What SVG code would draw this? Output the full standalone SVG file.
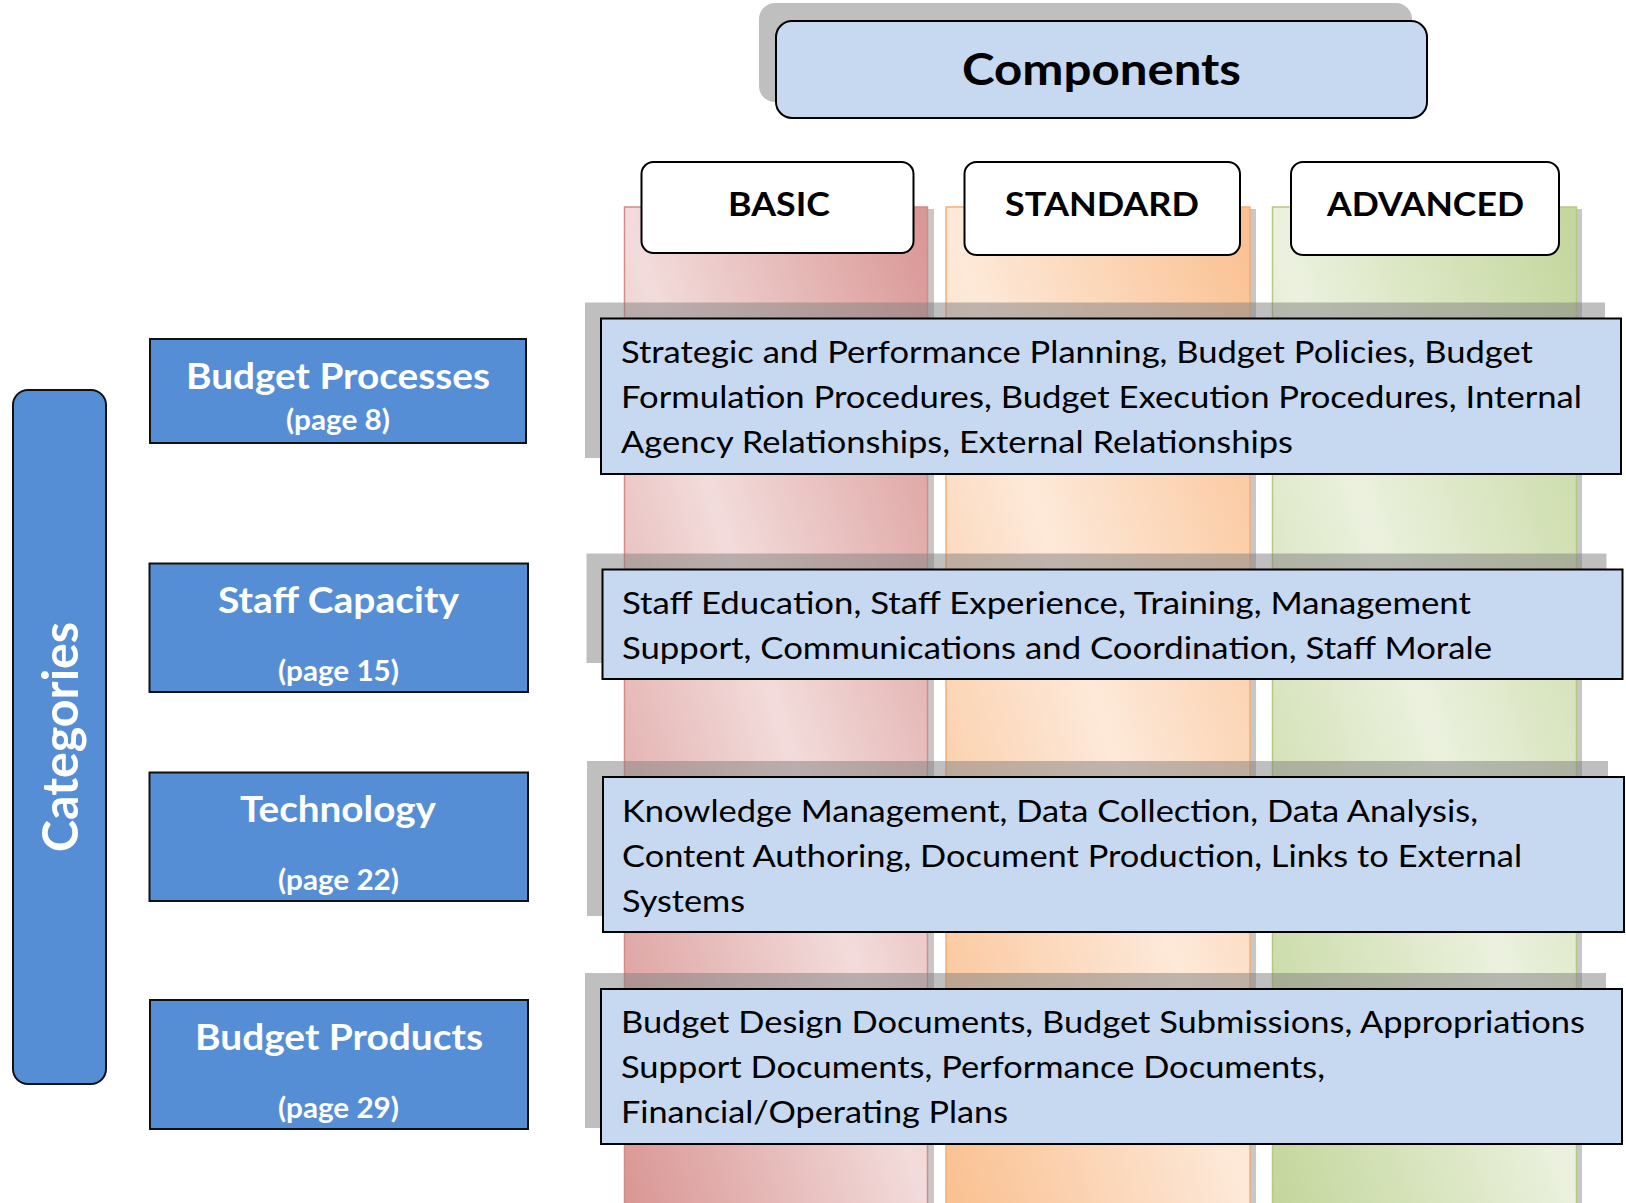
<svg xmlns="http://www.w3.org/2000/svg" width="1626" height="1203" viewBox="0 0 1626 1203">
  <defs>
    <!-- diagonal two-tone shading for the three level columns -->
    <linearGradient id="gRed" x1="1" y1="0" x2="0" y2="1">
      <stop offset="0" stop-color="#d99694"/>
      <stop offset="0.5" stop-color="#f2dcdb"/>
      <stop offset="1" stop-color="#d99694"/>
    </linearGradient>
    <linearGradient id="gOrange" x1="1" y1="0" x2="0" y2="1">
      <stop offset="0" stop-color="#fac090"/>
      <stop offset="0.5" stop-color="#fde9d9"/>
      <stop offset="1" stop-color="#fac090"/>
    </linearGradient>
    <linearGradient id="gGreen" x1="1" y1="0" x2="0" y2="1">
      <stop offset="0" stop-color="#c3d69b"/>
      <stop offset="0.5" stop-color="#ebf1de"/>
      <stop offset="1" stop-color="#c3d69b"/>
    </linearGradient>
  </defs>
  <style>
    .col-shadow { fill: #000; opacity: 0.22; }
    .hdr { fill: #ffffff; stroke: #000; stroke-width: 2; }
    .hdr-t { font-family: Lato, "Open Sans", sans-serif; font-weight: 700; font-size: 33px; fill: #000; }
    .comp { fill: #c6d9f1; stroke: #000; stroke-width: 2; }
    .comp-shadow { fill: #bfbfbf; }
    .item-shadow { fill: #7f7f7f; opacity: 0.5; }
    .item { fill: #c6d9f1; stroke: #000; stroke-width: 2; }
    .item-t { font-family: Lato, "Open Sans", sans-serif; font-size: 30px; fill: #000; }
    .cat { fill: #558ed5; stroke: #111; stroke-width: 2; }
    .cat-t { font-family: Lato, "Open Sans", sans-serif; font-weight: 700; font-size: 36px; fill: #fff; }
    .cat-p { font-family: Lato, "Open Sans", sans-serif; font-weight: 700; font-size: 28px; fill: #fff; }
  </style>

  <rect width="1626" height="1203" fill="#ffffff"/>

  <!-- level columns -->
  <g id="columns">
    <rect class="col-shadow" x="628" y="209" width="306" height="1000"/>
    <rect x="624.5" y="207" width="303" height="1000" fill="url(#gRed)" stroke="#d48b89" stroke-width="1.5"/>
    <rect class="col-shadow" x="950" y="209" width="306" height="1000"/>
    <rect x="946" y="207" width="304" height="1000" fill="url(#gOrange)" stroke="#f5ae74" stroke-width="1.5"/>
    <rect class="col-shadow" x="1276" y="209" width="306" height="1000"/>
    <rect x="1272.5" y="207" width="304" height="1000" fill="url(#gGreen)" stroke="#b3ca84" stroke-width="1.5"/>
  </g>

  <!-- title -->
  <g id="components">
    <rect class="comp-shadow" x="759" y="3" width="653" height="99" rx="16"/>
    <rect class="comp" x="776" y="21" width="651" height="97" rx="16"/>
    <text x="962" y="85" font-family="Lato, 'Open Sans', sans-serif" font-weight="700" font-size="44" fill="#000" textLength="279" lengthAdjust="spacingAndGlyphs">Components</text>
  </g>

  <!-- level headers -->
  <g id="basic">
    <rect class="hdr" x="641.5" y="162" width="272" height="91" rx="12"/>
    <text class="hdr-t" x="728" y="216" textLength="102" lengthAdjust="spacingAndGlyphs">BASIC</text>
  </g>
  <g id="standard">
    <rect class="hdr" x="964.5" y="162" width="275.5" height="93" rx="12"/>
    <text class="hdr-t" x="1005" y="216" textLength="194" lengthAdjust="spacingAndGlyphs">STANDARD</text>
  </g>
  <g id="advanced">
    <rect class="hdr" x="1291" y="162" width="268" height="93" rx="12"/>
    <text class="hdr-t" x="1327" y="216" textLength="197" lengthAdjust="spacingAndGlyphs">ADVANCED</text>
  </g>

  <!-- component lists -->
  <g id="items-processes">
    <rect class="item-shadow" x="585" y="302.5" width="1020" height="155.5"/>
    <rect class="item" x="601" y="318.5" width="1020" height="155.5"/>
    <text class="item-t" x="621" y="363" textLength="912" lengthAdjust="spacingAndGlyphs">Strategic and Performance Planning, Budget Policies, Budget</text>
    <text class="item-t" x="621" y="408" textLength="961" lengthAdjust="spacingAndGlyphs">Formulation Procedures, Budget Execution Procedures, Internal</text>
    <text class="item-t" x="621" y="453" textLength="672" lengthAdjust="spacingAndGlyphs">Agency Relationships, External Relationships</text>
  </g>
  <g id="items-staff">
    <rect class="item-shadow" x="586.5" y="553.5" width="1020" height="109.5"/>
    <rect class="item" x="602.5" y="569.5" width="1020" height="109.5"/>
    <text class="item-t" x="622" y="614" textLength="849" lengthAdjust="spacingAndGlyphs">Staff Education, Staff Experience, Training, Management</text>
    <text class="item-t" x="622" y="659" textLength="870" lengthAdjust="spacingAndGlyphs">Support, Communications and Coordination, Staff Morale</text>
  </g>
  <g id="items-technology">
    <rect class="item-shadow" x="587" y="761" width="1021" height="155"/>
    <rect class="item" x="603" y="777" width="1021" height="155"/>
    <text class="item-t" x="622" y="822" textLength="856" lengthAdjust="spacingAndGlyphs">Knowledge Management, Data Collection, Data Analysis,</text>
    <text class="item-t" x="622" y="867" textLength="900" lengthAdjust="spacingAndGlyphs">Content Authoring, Document Production, Links to External</text>
    <text class="item-t" x="622" y="912" textLength="123" lengthAdjust="spacingAndGlyphs">Systems</text>
  </g>
  <g id="items-products">
    <rect class="item-shadow" x="585" y="973" width="1021" height="155"/>
    <rect class="item" x="601" y="989" width="1021" height="155"/>
    <text class="item-t" x="621" y="1033" textLength="964" lengthAdjust="spacingAndGlyphs">Budget Design Documents, Budget Submissions, Appropriations</text>
    <text class="item-t" x="621" y="1078" textLength="704" lengthAdjust="spacingAndGlyphs">Support Documents, Performance Documents,</text>
    <text class="item-t" x="621" y="1123" textLength="387" lengthAdjust="spacingAndGlyphs">Financial/Operating Plans</text>
  </g>

  <!-- category side bar -->
  <g id="categories">
    <rect class="cat" x="13" y="390" width="93" height="694" rx="15"/>
    <text transform="translate(78 852) rotate(-90)" x="0" y="0" font-family="Lato, 'Open Sans', sans-serif" font-weight="700" font-size="49" fill="#fff" textLength="230" lengthAdjust="spacingAndGlyphs">Categories</text>
  </g>

  <!-- category boxes -->
  <g id="cat-processes">
    <rect class="cat" x="150" y="339" width="376" height="104"/>
    <text class="cat-t" x="186" y="389" textLength="304" lengthAdjust="spacingAndGlyphs">Budget Processes</text>
    <text class="cat-p" x="286" y="430" textLength="104" lengthAdjust="spacingAndGlyphs">(page 8)</text>
  </g>
  <g id="cat-staff">
    <rect class="cat" x="149.5" y="563.5" width="378.5" height="128.5"/>
    <text class="cat-t" x="218" y="613" textLength="241" lengthAdjust="spacingAndGlyphs">Staff Capacity</text>
    <text class="cat-p" x="278" y="681" textLength="121" lengthAdjust="spacingAndGlyphs">(page 15)</text>
  </g>
  <g id="cat-technology">
    <rect class="cat" x="149.5" y="772.5" width="378.5" height="128.5"/>
    <text class="cat-t" x="240" y="822" textLength="196" lengthAdjust="spacingAndGlyphs">Technology</text>
    <text class="cat-p" x="278" y="890" textLength="121" lengthAdjust="spacingAndGlyphs">(page 22)</text>
  </g>
  <g id="cat-products">
    <rect class="cat" x="150" y="1000" width="378" height="129"/>
    <text class="cat-t" x="195" y="1050" textLength="288" lengthAdjust="spacingAndGlyphs">Budget Products</text>
    <text class="cat-p" x="278" y="1118" textLength="121" lengthAdjust="spacingAndGlyphs">(page 29)</text>
  </g>
</svg>
